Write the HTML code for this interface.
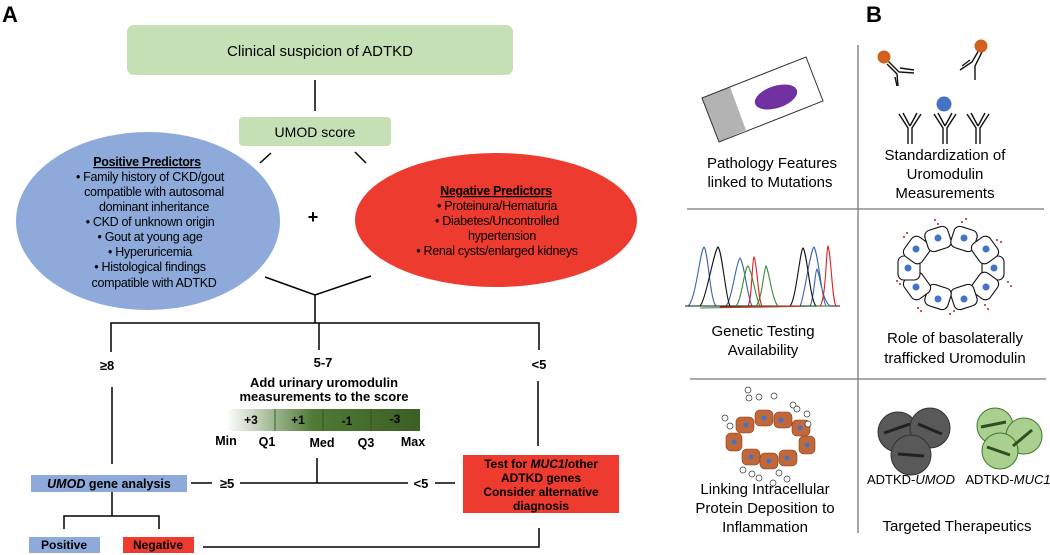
<!DOCTYPE html>
<html><head><meta charset="utf-8"><style>
html,body{margin:0;padding:0;background:#fff}
svg{display:block;font-family:"Liberation Sans",Arial,sans-serif}
</style></head><body>
<svg width="1050" height="555" viewBox="0 0 1050 555" xmlns="http://www.w3.org/2000/svg">
<defs>
<linearGradient id="g" x1="0" x2="1" y1="0" y2="0">
<stop offset="0" stop-color="#ffffff"/><stop offset="0.45" stop-color="#4f7a35"/><stop offset="1" stop-color="#3b5f23"/>
</linearGradient>
</defs>
<!-- Panel A -->
<text x="2" y="22" font-size="22" font-weight="bold">A</text>
<rect x="127" y="25" width="386" height="50" rx="7" fill="#c5e0b4"/>
<text x="320" y="56" font-size="15" text-anchor="middle">Clinical suspicion of ADTKD</text>
<line x1="315" y1="80" x2="315" y2="111" stroke="#000" stroke-width="1.5"/>
<rect x="239" y="117" width="152" height="29" rx="4" fill="#c5e0b4"/>
<text x="315" y="137" font-size="14" text-anchor="middle">UMOD score</text>
<line x1="271" y1="153" x2="260" y2="163" stroke="#000" stroke-width="1.5"/>
<line x1="355" y1="152" x2="366" y2="163" stroke="#000" stroke-width="1.5"/>

<ellipse cx="148" cy="221" rx="132" ry="89" fill="#8eaadb"/>
<g font-size="12.5" text-anchor="middle" letter-spacing="-0.3">
<text x="147" y="166" font-weight="bold" text-decoration="underline">Positive Predictors</text>
<text x="150" y="181">•  Family history of CKD/gout</text>
<text x="154" y="196">compatible with autosomal</text>
<text x="154" y="211">dominant inheritance</text>
<text x="150" y="226">•  CKD of unknown origin</text>
<text x="150" y="241">•  Gout at young age</text>
<text x="150" y="256">•  Hyperuricemia</text>
<text x="150" y="271">•  Histological findings</text>
<text x="154" y="287">compatible with ADTKD</text>
</g>
<text x="313" y="223" font-size="18" font-weight="bold" text-anchor="middle">+</text>

<ellipse cx="496" cy="220" rx="141" ry="67" fill="#ee3b2f"/>
<g font-size="12.5" text-anchor="middle" letter-spacing="-0.3">
<text x="496" y="195" font-weight="bold" text-decoration="underline">Negative Predictors</text>
<text x="497" y="210">•  Proteinura/Hematuria</text>
<text x="497" y="225">•  Diabetes/Uncontrolled</text>
<text x="502" y="240">hypertension</text>
<text x="497" y="255">•  Renal cysts/enlarged kidneys</text>
</g>

<g stroke="#000" stroke-width="1.5" fill="none">
<polyline points="265,277 315,295 371,276"/>
<line x1="315" y1="295" x2="315" y2="323"/>
<polyline points="111,352 111,323 539,323 539,350"/>
<line x1="319" y1="323" x2="319" y2="350"/>
<line x1="112" y1="387" x2="112" y2="464"/>
<line x1="538" y1="381" x2="538" y2="446"/>
<line x1="317" y1="458" x2="317" y2="483"/>
<line x1="240" y1="483" x2="408" y2="483"/>
<line x1="191" y1="483" x2="212" y2="483"/>
<line x1="435" y1="483" x2="455" y2="483"/>
<line x1="112" y1="492" x2="112" y2="516"/>
<polyline points="64,529 64,516 159,516 159,529"/>
<polyline points="203,547 539,547 539,528"/>
</g>
<g font-size="13" font-weight="bold" text-anchor="middle">
<text x="107" y="370">≥8</text>
<text x="323" y="367">5-7</text>
<text x="539" y="369">&lt;5</text>
<text x="324" y="387">Add urinary uromodulin</text>
<text x="324" y="401">measurements to the score</text>
<text x="227" y="488">≥5</text>
<text x="421" y="488">&lt;5</text>
</g>
<rect x="226" y="409" width="194" height="22" fill="url(#g)"/>
<g stroke="#2d4a1b" stroke-width="0.8"><line x1="275" y1="409" x2="275" y2="431"/><line x1="323" y1="409" x2="323" y2="431"/><line x1="371" y1="409" x2="371" y2="431"/></g>
<g font-size="12" font-weight="bold" text-anchor="middle">
<text x="251" y="424">+3</text><text x="298" y="424">+1</text><text x="347" y="425">-1</text><text x="395" y="423">-3</text>
</g>
<g font-size="12.5" font-weight="bold" text-anchor="middle">
<text x="226" y="445">Min</text><text x="267" y="446">Q1</text><text x="322" y="447">Med</text><text x="366" y="447">Q3</text><text x="413" y="446">Max</text>
</g>
<rect x="31" y="475" width="156" height="17" fill="#8eaadb"/>
<text x="109" y="488" font-size="12.5" font-weight="bold" text-anchor="middle"><tspan font-style="italic">UMOD</tspan> gene analysis</text>
<rect x="463" y="455" width="156" height="58" fill="#ee3b2f"/>
<g font-size="12" font-weight="bold" text-anchor="middle">
<text x="541" y="468">Test for <tspan font-style="italic">MUC1</tspan>/other</text>
<text x="541" y="482">ADTKD genes</text>
<text x="541" y="496">Consider alternative</text>
<text x="541" y="510">diagnosis</text>
</g>
<rect x="29" y="537" width="71" height="16" fill="#8eaadb"/>
<text x="64" y="549" font-size="12" font-weight="bold" text-anchor="middle">Positive</text>
<rect x="123" y="537" width="71" height="16" fill="#ee3b2f"/>
<text x="158" y="549" font-size="12" font-weight="bold" text-anchor="middle">Negative</text>

<!-- Panel B -->
<text x="866" y="22" font-size="22" font-weight="bold">B</text>
<g stroke="#777" stroke-width="1.3">
<line x1="858" y1="45" x2="858" y2="533"/>
<line x1="687" y1="209" x2="1044" y2="209"/>
<line x1="690" y1="379" x2="1046" y2="379"/>
</g>
<!-- slide -->
<polygon points="702,98 730,87 746,130 719,142" fill="#b3b3b3"/>
<polygon points="702,98 806,57 823,101 719,142" fill="none" stroke="#333" stroke-width="1"/>
<ellipse cx="776" cy="97" rx="22" ry="11" transform="rotate(-18 776 97)" fill="#7030a0"/>
<g font-size="15" text-anchor="middle">
<text x="772" y="168">Pathology Features</text>
<text x="770" y="187">linked to Mutations</text>
<text x="945" y="160">Standardization of</text>
<text x="945" y="179">Uromodulin</text>
<text x="945" y="198">Measurements</text>
<text x="763" y="336">Genetic Testing</text>
<text x="763" y="355">Availability</text>
<text x="955" y="343">Role of basolaterally</text>
<text x="955" y="363">trafficked Uromodulin</text>
<text x="765" y="494">Linking Intracellular</text>
<text x="765" y="513">Protein Deposition to</text>
<text x="765" y="532">Inflammation</text>
<text x="957" y="531">Targeted Therapeutics</text>
</g>
<g font-size="13" text-anchor="middle">
<text x="911" y="484">ADTKD-<tspan font-style="italic">UMOD</tspan></text>
<text x="1008" y="484">ADTKD-<tspan font-style="italic">MUC1</tspan></text>
</g>
<!-- antibodies -->
<g stroke="#111" stroke-width="1.4" fill="none">
<path d="M908,144 V128 L899,114 M912,144 V128 L921,114 M903,113 L910,126 M917,113 L910,126"/>
<path d="M943,144 V128 L934,114 M947,144 V128 L956,114 M938,113 L945,126 M952,113 L945,126"/>
<path d="M976,144 V128 L967,114 M980,144 V128 L989,114 M971,113 L978,126 M985,113 L978,126"/>
<path d="M887,60 L899,72 L914,73 M887,64 L897,74 L898,86 M900,68 L914,70 M895,77 L897,86"/>
<path d="M979,50 L972,62 L960,70 M982,52 L975,66 L975,80 M970,60 L962,66"/>
</g>
<circle cx="884" cy="57" r="6.5" fill="#d2601f"/>
<circle cx="981" cy="46" r="6.5" fill="#d2601f"/>
<circle cx="944" cy="104" r="7.5" fill="#4472c4"/>
<!-- chromatogram -->
<g fill="none" stroke-width="1.1">
<path d="M688,306 C696,300 700,250 704,247 C708,250 710,300 716,306 M726,306 C732,300 736,262 740,258 C744,262 748,300 752,306 M800,306 C804,300 810,250 814,247 C818,252 822,300 826,306 M810,306 C814,300 815,270 817,269 C820,275 822,300 830,306" stroke="#3a64b0"/>
<path d="M700,306 C706,300 714,250 718,247 C722,250 726,300 730,306 M790,306 C796,300 800,250 803,248 C807,252 810,300 816,306 M685,306 L840,306" stroke="#111"/>
<path d="M736,306 C742,300 744,268 748,266 C752,270 756,300 760,306 M756,306 C762,300 764,268 766,266 C769,270 772,300 778,306 M700,308 L830,306" stroke="#3c8a3c"/>
<path d="M748,306 C752,300 752,260 754,257 C757,262 758,300 762,306 M820,306 C826,300 826,250 828,246 C831,252 832,300 836,306 M720,307 L800,306" stroke="#e02020"/>
</g>
<!-- cell ring 1 -->
<g stroke="#111" stroke-width="1.1" fill="#fff">
<rect x="981" y="257" width="24" height="22" rx="6" transform="rotate(90 993 268)"/>
<rect x="973" y="275" width="24" height="22" rx="6" transform="rotate(126 985 286)"/>
<rect x="952" y="286" width="24" height="22" rx="6" transform="rotate(162 964 297)"/>
<rect x="926" y="286" width="24" height="22" rx="6" transform="rotate(198 938 297)"/>
<rect x="905" y="275" width="24" height="22" rx="6" transform="rotate(234 917 286)"/>
<rect x="897" y="257" width="24" height="22" rx="6" transform="rotate(270 909 268)"/>
<rect x="905" y="239" width="24" height="22" rx="6" transform="rotate(306 917 250)"/>
<rect x="926" y="228" width="24" height="22" rx="6" transform="rotate(342 938 239)"/>
<rect x="952" y="228" width="24" height="22" rx="6" transform="rotate(18 964 239)"/>
<rect x="973" y="239" width="24" height="22" rx="6" transform="rotate(54 985 250)"/>
</g>
<g fill="#4472c4">
<circle cx="994" cy="268" r="3.5"/><circle cx="986" cy="287" r="3.5"/><circle cx="964" cy="299" r="3.5"/><circle cx="938" cy="299" r="3.5"/>
<circle cx="916" cy="287" r="3.5"/><circle cx="908" cy="268" r="3.5"/><circle cx="916" cy="249" r="3.5"/><circle cx="938" cy="238" r="3.5"/>
<circle cx="964" cy="238" r="3.5"/><circle cx="986" cy="249" r="3.5"/>
</g>
<g fill="#a0301c">
<circle cx="935" cy="220" r="1"/><circle cx="938" cy="224" r="1"/><circle cx="962" cy="222" r="1"/><circle cx="966" cy="219" r="1"/>
<circle cx="907" cy="233" r="1"/><circle cx="904" cy="237" r="1"/><circle cx="997" cy="240" r="1"/><circle cx="1001" cy="242" r="1"/>
<circle cx="1008" cy="282" r="1"/><circle cx="1011" cy="286" r="1"/><circle cx="900" cy="284" r="1"/><circle cx="897" cy="281" r="1"/>
<circle cx="918" cy="308" r="1"/><circle cx="921" cy="311" r="1"/><circle cx="950" cy="314" r="1"/><circle cx="954" cy="311" r="1"/>
<circle cx="985" cy="305" r="1"/><circle cx="988" cy="309" r="1"/>
</g>
<!-- inflammation ring -->
<g fill="#c0683a" stroke="#8a3a1a" stroke-width="0.6">
<rect x="736" y="417" width="18" height="16" rx="5"/><rect x="755" y="410" width="18" height="16" rx="5"/><rect x="774" y="412" width="18" height="16" rx="5"/>
<rect x="792" y="420" width="18" height="16" rx="5"/><rect x="799" y="436" width="16" height="18" rx="5"/><rect x="726" y="433" width="16" height="18" rx="5"/>
<rect x="742" y="449" width="18" height="16" rx="5"/><rect x="760" y="453" width="18" height="16" rx="5"/><rect x="779" y="450" width="18" height="16" rx="5"/>
</g>
<g fill="#4472c4">
<circle cx="746" cy="425" r="2.5"/><circle cx="764" cy="418" r="2.5"/><circle cx="781" cy="420" r="2.5"/><circle cx="800" cy="428" r="2.5"/>
<circle cx="807" cy="445" r="2.5"/><circle cx="734" cy="442" r="2.5"/><circle cx="751" cy="457" r="2.5"/><circle cx="769" cy="461" r="2.5"/><circle cx="787" cy="458" r="2.5"/>
</g>
<g fill="#fff" stroke="#333" stroke-width="0.7">
<circle cx="748" cy="390" r="3"/><circle cx="749" cy="398" r="3"/><circle cx="759" cy="397" r="3"/><circle cx="774" cy="396" r="3"/>
<circle cx="793" cy="405" r="3"/><circle cx="797" cy="409" r="3"/><circle cx="807" cy="414" r="3"/><circle cx="808" cy="424" r="3"/>
<circle cx="725" cy="418" r="3"/><circle cx="730" cy="426" r="3"/><circle cx="743" cy="470" r="3"/><circle cx="752" cy="474" r="3"/>
<circle cx="759" cy="478" r="3"/><circle cx="779" cy="473" r="3"/><circle cx="787" cy="479" r="3"/><circle cx="773" cy="483" r="3"/>
</g>
<!-- pills -->
<g fill="#595959" stroke="#333" stroke-width="1">
<circle cx="898" cy="432" r="20"/><circle cx="930" cy="428" r="20"/><circle cx="911" cy="455" r="20"/>
</g>
<g stroke="#222" stroke-width="3">
<line x1="884" y1="433" x2="910" y2="424"/><line x1="918" y1="424" x2="942" y2="434"/><line x1="898" y1="454" x2="924" y2="456"/>
</g>
<g fill="#a9d08e" stroke="#3e7a2a" stroke-width="1">
<circle cx="995" cy="426" r="18"/><circle cx="1024" cy="436" r="18"/><circle cx="1000" cy="451" r="18"/>
</g>
<g stroke="#2e4f22" stroke-width="3">
<line x1="981" y1="427" x2="1006" y2="422"/><line x1="1013" y1="446" x2="1032" y2="430"/><line x1="987" y1="447" x2="1010" y2="455"/>
</g>
</svg>
</body></html>
